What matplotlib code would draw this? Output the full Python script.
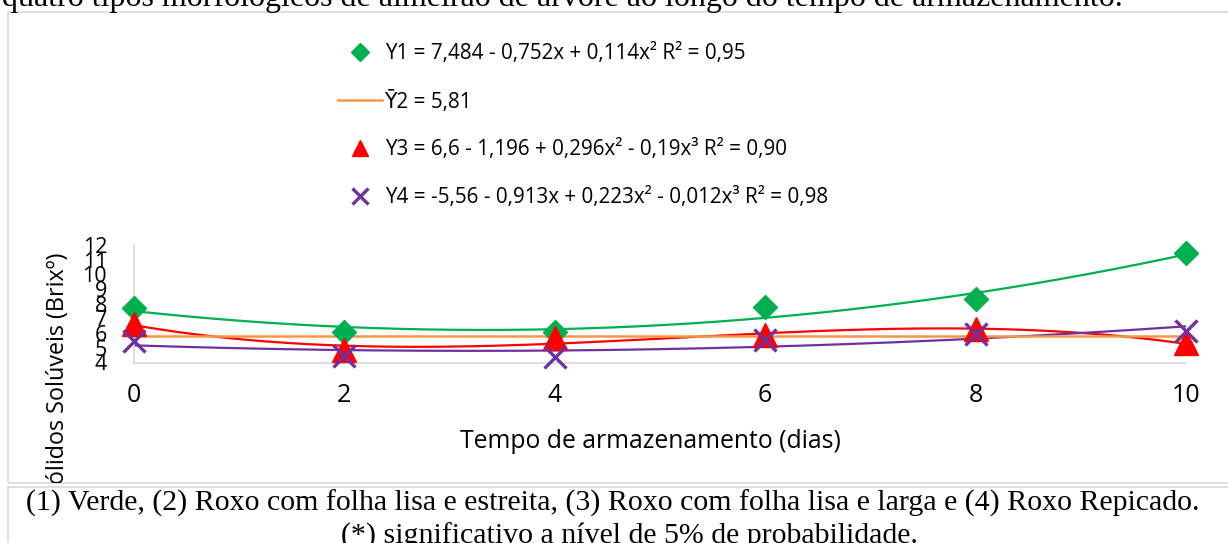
import matplotlib.pyplot as plt
import numpy as np
from matplotlib.patches import Rectangle

# dias de armazenamento e sólidos solúveis (ºBrix) de cada tipo
dias = [0, 2, 4, 6, 8, 10]
verde = [7.69, 6.10, 6.05, 7.77, 8.29, 11.43]
media_roxo_estreita = 5.81
roxo_larga = [6.63, 4.85, 5.65, 5.84, 6.27, 5.30]
roxo_repicado = [5.48, 4.46, 4.40, 5.53, 5.95, 6.17]

rotulos = [
    "Y1 = 7,484 - 0,752x + 0,114x² R² = 0,95",
    "Ȳ2 = 5,81",
    "Y3 = 6,6 - 1,196 + 0,296x² - 0,19x³ R² = 0,90",
    "Y4 = -5,56 - 0,913x + 0,223x² - 0,012x³ R² = 0,98",
]
y_ticks = list(range(4, 13))

texto_topo = "quatro tipos morfológicos de almeirão de árvore ao longo do tempo de armazenamento."
legenda_tabela = ("(1) Verde, (2) Roxo com folha lisa e estreita, (3) Roxo com folha lisa e larga "
                  "e (4) Roxo Repicado.")
nota_tabela = "(*) significativo a nível de 5% de probabilidade."

W, H = 1228, 543
fx = lambda px: px / W
fy = lambda py: 1 - py / H

fonte = ["Open Sans", "DejaVu Sans"]
serif = ["Liberation Serif", "DejaVu Serif"]
plt.rcParams["font.family"] = fonte

fig = plt.figure(figsize=(W / 100, H / 100), dpi=100)

# caixa do gráfico e caixa da legenda da tabela
caixa = Rectangle((fx(8), fy(483)), fx(1240 - 8), fy(12) - fy(483), transform=fig.transFigure,
                  fill=False, edgecolor="#d9d9d9", lw=1.2)
fig.patches.append(caixa)
caixa2 = Rectangle((fx(8), fy(560)), fx(1240 - 8), fy(487) - fy(560), transform=fig.transFigure,
                   fill=False, edgecolor="#d9d9d9", lw=1.2)
fig.patches.append(caixa2)

ax = fig.add_axes([fx(133.5), fy(362.5), fx(1186 - 133.5), fy(245) - fy(362.5)])
ax.set_xlim(0, 10)
ax.set_ylim(4, 12)
for s in ["top", "right"]:
    ax.spines[s].set_visible(False)
for s in ["left", "bottom"]:
    ax.spines[s].set_color("#d9d9d9")
    ax.spines[s].set_linewidth(1.2)
ax.set_xticks(dias)
ax.set_yticks(y_ticks)
ax.tick_params(axis="x", length=0, pad=15, labelsize=18)
ax.tick_params(axis="y", length=0, pad=19, labelsize=15.5)

xs = np.linspace(0, 10, 200)
verde_c = "#00b050"
laranja = "#f79646"
vermelho = "#ff0000"
roxo = "#7030a0"

# linhas de tendência (polinomiais)
ax.plot(xs, np.polyval(np.polyfit(dias, verde, 2), xs), color=verde_c, lw=1.6, zorder=2)
ax.plot(xs, np.polyval(np.polyfit(dias, roxo_larga, 3), xs), color=vermelho, lw=1.6, zorder=2)
ax.plot(xs, np.polyval(np.polyfit(dias, roxo_repicado, 2), xs), color=roxo, lw=1.6, zorder=2)
h2, = ax.plot([0, 10], [media_roxo_estreita] * 2, color=laranja, lw=1.8, zorder=2)

# pontos observados
h1, = ax.plot(dias, verde, ls="none", marker="D", ms=12.5, color=verde_c, zorder=3, clip_on=False)
h3, = ax.plot(dias, roxo_larga, ls="none", marker="^", ms=17, color=vermelho, zorder=3, clip_on=False)
h4, = ax.plot(dias, roxo_repicado, ls="none", marker="x", ms=16, mew=2.4, color=roxo, zorder=4,
              clip_on=False)

fig.legend([h1, h2, h3, h4], rotulos, loc="upper left", bbox_to_anchor=(fx(338), fy(43)),
           frameon=False, fontsize=14.9, handlelength=2.15, handletextpad=0.1, labelspacing=1.29,
           borderpad=0, borderaxespad=0, markerscale=0.7)

fig.text(fx(650), fy(441), "Tempo de armazenamento (dias)", ha="center", va="center", fontsize=17.8)
rot_y = fig.text(fx(58), fy(253), "Sólidos Solúveis (Brixº)", rotation=90, ha="center", va="top",
                 fontsize=16.8)
rot_y.set_clip_path(caixa)

fig.text(fx(2), fy(6), texto_topo, ha="left", va="baseline", fontsize=23, family=serif)
fig.text(fx(613), fy(503), legenda_tabela, ha="center", va="center", fontsize=21.5, family=serif)
fig.text(fx(629), fy(536), nota_tabela, ha="center", va="center", fontsize=21.5, family=serif)

fig.savefig("out.png", dpi=100)
